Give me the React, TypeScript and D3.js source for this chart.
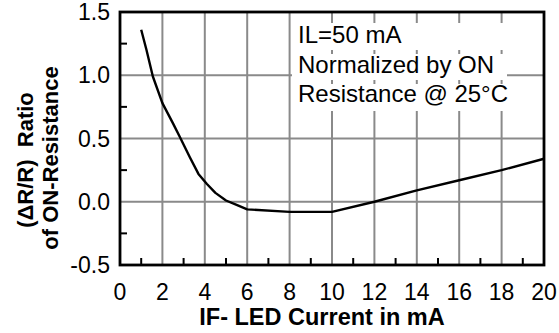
import React from "react";
import * as d3 from "d3";

const current = [1.0, 1.25, 1.55, 2.0, 2.5, 2.8, 3.3, 3.7, 4.1, 4.5, 5.0, 5.5, 6.0, 8.0, 10.0, 12.0, 14.0, 16.0, 18.0, 20.0];
const ratio = [1.36, 1.2, 0.99, 0.78, 0.62, 0.52, 0.35, 0.22, 0.14, 0.07, 0.01, -0.025, -0.06, -0.08, -0.08, 0.0, 0.09, 0.17, 0.25, 0.34];

const xTicks = [0, 2, 4, 6, 8, 10, 12, 14, 16, 18, 20];
const xMinor = [1, 3, 5, 7, 9, 11, 13, 15, 17, 19];
const yTicks = [1.5, 1.0, 0.5, 0.0, -0.5];
const yMinor = [1.25, 0.75, 0.25, -0.25];
const xGrid = [2, 4, 6, 8, 10, 12, 14, 16, 18];
const yGrid = [1.0, 0.5, 0.0];
const noteLines = ["IL=50 mA", "Normalized by ON", "Resistance @ 25\u00B0C"];

const W = 559, H = 333;
const L = 120, R = 544, T = 12, B = 265;
const FONT = "'Liberation Sans', Arial, Helvetica, sans-serif";

export default function App() {
  const x = d3.scaleLinear().domain([0, 20]).range([L, R]);
  const y = d3.scaleLinear().domain([-0.5, 1.5]).range([B, T]);
  const pts: [number, number][] = current.map((c, i) => [c, ratio[i]]);
  const line = d3.line<[number, number]>().x(d => x(d[0])).y(d => y(d[1])).curve(d3.curveLinear);
  const grid = "#8a8a8a";
  return (
    <svg width={W} height={H} style={{ position: "absolute", left: 0, top: 0, background: "#fff" }} fontFamily={FONT}>
      <rect x={0} y={0} width={W} height={H} fill="#fff" />
      {xGrid.map(v => (
        <line key={"gx" + v} x1={x(v)} x2={x(v)} y1={T} y2={B} stroke={grid} strokeWidth={2} />
      ))}
      {yGrid.map(v => (
        <line key={"gy" + v} x1={L} x2={R} y1={y(v)} y2={y(v)} stroke={grid} strokeWidth={2} />
      ))}
      {/* annotation backgrounds */}
      <rect x={292} y={23} width={215} height={27} fill="#fff" />
      <rect x={292} y={54} width={215} height={26} fill="#fff" />
      <rect x={292} y={84} width={215} height={27} fill="#fff" />
      {noteLines.map((t, i) => (
        <text key={t} x={298} y={43 + i * 29.5} fontSize={24} fill="#000">{t}</text>
      ))}
      {xMinor.map(v => (
        <line key={"mx" + v} x1={x(v)} x2={x(v)} y1={B} y2={B - 7} stroke="#000" strokeWidth={2} />
      ))}
      {yMinor.map(v => (
        <line key={"my" + v} x1={L} x2={L + 7} y1={y(v)} y2={y(v)} stroke="#000" strokeWidth={2} />
      ))}
      <path d={line(pts) || ""} fill="none" stroke="#000" strokeWidth={2.4} strokeLinejoin="round" />
      <rect x={L} y={T} width={R - L} height={B - T} fill="none" stroke="#000" strokeWidth={2.8} />
      {xTicks.map(v => (
        <text key={"tx" + v} x={x(v)} y={300} fontSize={23} textAnchor="middle" fill="#000">{v}</text>
      ))}
      {yTicks.map(v => (
        <text key={"ty" + v} x={110} y={y(v) + 8} fontSize={23} textAnchor="end" fill="#000">{v.toFixed(1)}</text>
      ))}
      <text x={322} y={325} fontSize={23.5} fontWeight="bold" textAnchor="middle" fill="#000">IF- LED Current in mA</text>
      <text transform="translate(33,160) rotate(-90)" fontSize={22} fontWeight="bold" textAnchor="middle" fill="#000" style={{ whiteSpace: "pre" }}>{"(\u0394R/R)  Ratio"}</text>
      <text transform="translate(58,158) rotate(-90)" fontSize={22} fontWeight="bold" textAnchor="middle" fill="#000">of ON-Resistance</text>
    </svg>
  );
}
